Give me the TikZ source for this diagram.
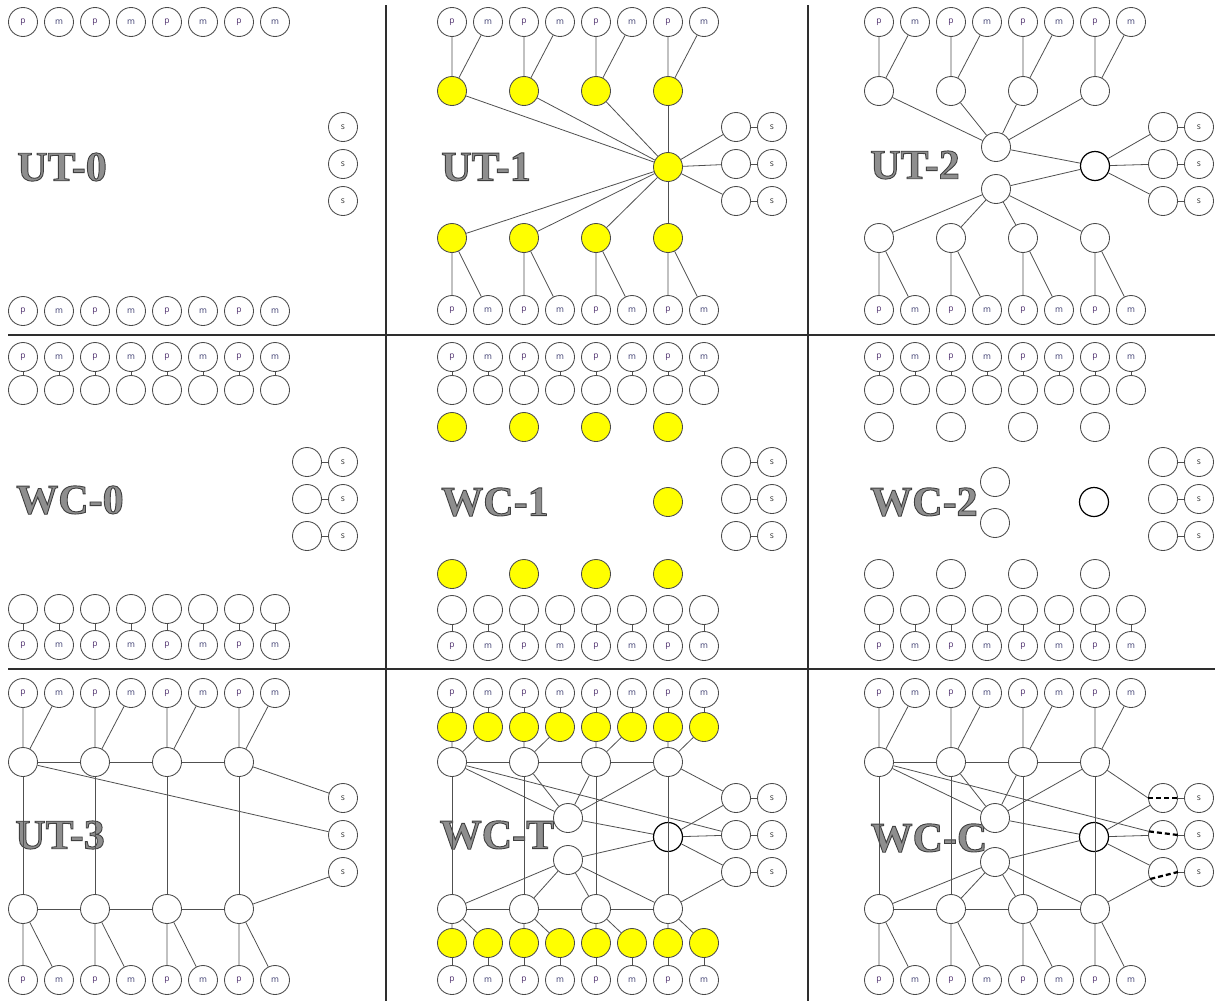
\documentclass[tikz,border=0pt]{standalone}
\usepackage{fontspec}
\setmainfont{Liberation Serif}
\newfontfamily\smallfont{Open Sans}
\usetikzlibrary{calc}
\definecolor{cstroke}{HTML}{4A4A4A}
\definecolor{lcol}{HTML}{505050}
\definecolor{pcol}{HTML}{4B2C6B}
\definecolor{mcol}{HTML}{3A3A6E}
\definecolor{scol}{HTML}{333333}
\definecolor{ycol}{HTML}{FFFF00}
\definecolor{lblfillc}{HTML}{8E8E8E}
\definecolor{gridc}{HTML}{2E2E2E}
\tikzset{
 cn/.style={circle,draw=cstroke,line width=0.85pt,fill=white,minimum size=29pt,inner sep=0pt,font=\smallfont\fontsize{8.5}{10}\selectfont},
 yc/.style={cn,fill=ycol},
 hubc/.style={cn,draw=black,line width=1.2pt},
 conn/.style={draw=lcol,line width=0.8pt},
 bypass/.style={draw=black,line width=2.2pt,dash pattern=on 5pt off 3pt},
 lblfill/.style={inner sep=0pt,font=\bfseries\fontsize{42}{42}\selectfont,text=lblfillc},
 gridline/.style={draw=gridc,line width=1.1pt},
}
% rows of p/m nodes
\newcommand\PMrow[2]{\foreach \i/\l/\lc in {0/p/pcol,1/m/mcol,2/p/pcol,3/m/mcol,4/p/pcol,5/m/mcol,6/p/pcol,7/m/mcol}{\node[cn,text=\lc] (#1\i) at ({36*\i},#2) {\l};}}
\newcommand\Erow[3]{\foreach \i in {0,...,7}{\node[#3] (#1\i) at ({36*\i},#2) {};}}
\newcommand\Lrow[3]{\foreach \k in {0,...,3}{\node[#3] (#1\k) at ({72*\k},#2) {};}}
\newcommand\Sonly[1]{\foreach \j/\yy in {1/127,2/164,3/201}{\node[cn,text=scol] (#1s\j) at (320,\yy) {s};}}
\newcommand\Spairs[1]{\foreach \j/\yy in {1/127,2/164,3/201}{\node[cn] (#1r\j) at (284,\yy) {};\node[cn,text=scol] (#1s\j) at (320,\yy) {s};}}
\newcommand\SpairLinks[1]{\foreach \j in {1,2,3}{\draw[conn] (#1r\j) -- (#1s\j);}}
\newcommand\Ticks[2]{\foreach \i in {0,...,7}{\draw[conn] (#1\i) -- (#2\i);}}
\newcommand\Fan[2]{\foreach \k in {0,...,3}{\pgfmathtruncatemacro\ia{2*\k}\pgfmathtruncatemacro\ib{2*\k+1}\draw[conn] (#1\ia) -- (#2\k) (#1\ib) -- (#2\k);}}
\newcommand\Chain[1]{\draw[conn] (#10) -- (#11) -- (#12) -- (#13);}
\newcommand\Verts[2]{\foreach \k in {0,...,3}{\draw[conn] (#1\k) -- (#2\k);}}
\newcommand\ToHub[2]{\foreach \k in {0,...,3}{\draw[conn] (#1\k) -- (#2);}}
% outlined label: fill gray, dark stroke (text render mode 2)
\newcommand\Lbl[4]{%
 \node[lblfill] (#1) at (#2,#3) {\special{pdf:literal direct 0.25 0.25 0.25 RG 0.9 w 2 Tr}#4\special{pdf:literal direct 0 Tr 0.4 w}};}
\begin{document}
\begin{tikzpicture}[x=1pt,y=-1pt]
\useasboundingbox (0,0) rectangle (1215,1001);
\fill[white] (0,0) rectangle (1215,1001);
% grid
\draw[gridline] (386,5) -- (386,1001);
\draw[gridline] (808,5) -- (808,1001);
\draw[gridline] (8,335) -- (1215,335);
\draw[gridline] (8,669) -- (1215,669);

% ---------- UT-0
\begin{scope}[shift={(23,0)}]
 \Lbl{lUTa}{39}{167}{UT-0}
 \PMrow{At}{22}
 \PMrow{Au}{311}
 \Sonly{A}
\end{scope}

% ---------- UT-1
\begin{scope}[shift={(452,0)}]
 \Lbl{lUTb}{34}{167}{UT-1}
 \PMrow{Bt}{22}
 \Lrow{Ba}{91}{yc}
 \node[yc] (Bh) at (216,167) {};
 \Spairs{B}
 \Lrow{Bb}{238}{yc}
 \PMrow{Bu}{310}
 \Fan{Bt}{Ba}
 \Fan{Bu}{Bb}
 \ToHub{Ba}{Bh}
 \ToHub{Bb}{Bh}
 \foreach \j in {1,2,3}{\draw[conn] (Bh) -- (Br\j);}
 \SpairLinks{B}
\end{scope}

% ---------- UT-2
\begin{scope}[shift={(879,0)}]
 \Lbl{lUTc}{36}{165}{UT-2}
 \PMrow{Ct}{22}
 \Lrow{Ca}{91}{cn}
 \node[cn] (Cha) at (117,147) {};
 \node[cn] (Chb) at (117,189) {};
 \node[hubc] (CR) at (216,166) {};
 \Spairs{C}
 \Lrow{Cb}{238}{cn}
 \PMrow{Cu}{310}
 \Fan{Ct}{Ca}
 \Fan{Cu}{Cb}
 \ToHub{Ca}{Cha}
 \ToHub{Cb}{Chb}
 \draw[conn] (Cha) -- (CR);
 \draw[conn] (Chb) -- (CR);
 \foreach \j in {1,2,3}{\draw[conn] (CR) -- (Cr\j);}
 \SpairLinks{C}
\end{scope}

% ---------- WC-0
\begin{scope}[shift={(23,335)}]
 \Lbl{lWCa}{47}{165}{WC-0}
 \PMrow{Dt}{22}
 \Erow{De}{55}{cn}
 \Spairs{D}
 \Erow{Df}{274}{cn}
 \PMrow{Du}{310}
 \Ticks{Dt}{De}
 \Ticks{Df}{Du}
 \SpairLinks{D}
\end{scope}

% ---------- WC-1
\begin{scope}[shift={(452,335)}]
 \Lbl{lWCb}{43}{167}{WC-1}
 \PMrow{Et}{22}
 \Erow{Ee}{55}{cn}
 \Lrow{Ea}{92}{yc}
 \node[yc] (Eh) at (216,167) {};
 \Spairs{E}
 \Lrow{Eb}{239}{yc}
 \Erow{Ef}{275}{cn}
 \PMrow{Eu}{311}
 \Ticks{Et}{Ee}
 \Ticks{Ef}{Eu}
 \SpairLinks{E}
\end{scope}

% ---------- WC-2
\begin{scope}[shift={(879,335)}]
 \Lbl{lWCc}{45}{167}{WC-2}
 \PMrow{Ft}{22}
 \Erow{Fe}{55}{cn}
 \Lrow{Fa}{92}{cn}
 \node[cn] (Fha) at (116,147) {};
 \node[cn] (Fhb) at (116,188) {};
 \node[hubc] (FR) at (215,167) {};
 \Spairs{F}
 \Lrow{Fb}{239}{cn}
 \Erow{Ff}{275}{cn}
 \PMrow{Fu}{311}
 \Ticks{Ft}{Fe}
 \Ticks{Ff}{Fu}
 \SpairLinks{F}
\end{scope}

% ---------- UT-3
\begin{scope}[shift={(23,671)}]
 \Lbl{lUTd}{37}{164}{UT-3}
 \PMrow{Gt}{22}
 \Lrow{Ga}{91}{cn}
 \Lrow{Gb}{238}{cn}
 \PMrow{Gu}{309}
 \Sonly{G}
 \Fan{Gt}{Ga}
 \Fan{Gu}{Gb}
 \Chain{Ga}
 \Chain{Gb}
 \Verts{Ga}{Gb}
 \draw[conn] (Ga0) -- (Gs2);
 \draw[conn] (Ga3) -- (Gs1);
 \draw[conn] (Gb3) -- (Gs3);
\end{scope}

% ---------- WC-T
\begin{scope}[shift={(452,671)}]
 \Lbl{lWCd}{45}{164}{WC-T}
 \PMrow{Ht}{22}
 \Erow{Hy}{56}{yc}
 \Lrow{Ha}{91}{cn}
 \node[cn] (Hha) at (116,147) {};
 \node[cn] (Hhb) at (116,189) {};
 \node[hubc] (HR) at (216,166) {};
 \Spairs{H}
 \Lrow{Hb}{238}{cn}
 \Erow{Hz}{272}{yc}
 \PMrow{Hu}{309}
 \Ticks{Ht}{Hy}
 \Fan{Hy}{Ha}
 \Chain{Ha}
 \Chain{Hb}
 \Verts{Ha}{Hb}
 \ToHub{Ha}{Hha}
 \ToHub{Hb}{Hhb}
 \draw[conn] (Hha) -- (HR);
 \draw[conn] (Hhb) -- (HR);
 \draw[conn] (Ha0) -- (Hr2);
 \draw[conn] (Ha3) -- (Hr1);
 \draw[conn] (Hb3) -- (Hr3);
 \foreach \j in {1,2,3}{\draw[conn] (HR) -- (Hr\j);}
 \Fan{Hz}{Hb}
 \Ticks{Hz}{Hu}
 \SpairLinks{H}
\end{scope}

% ---------- WC-C
\begin{scope}[shift={(879,671)}]
 \Lbl{lWCe}{50}{167}{WC-C}
 \PMrow{It}{22}
 \Lrow{Ia}{91}{cn}
 \node[cn] (Iha) at (116,147) {};
 \node[cn] (Ihb) at (116,191) {};
 \node[hubc] (IR) at (215,166) {};
 \Spairs{I}
 \Lrow{Ib}{238}{cn}
 \PMrow{Iu}{309}
 \Fan{It}{Ia}
 \Fan{Iu}{Ib}
 \Chain{Ia}
 \Chain{Ib}
 \Verts{Ia}{Ib}
 \ToHub{Ia}{Iha}
 \ToHub{Ib}{Ihb}
 \draw[conn] (Iha) -- (IR);
 \draw[conn] (Ihb) -- (IR);
 \draw[conn] (Ia0) -- (Ir2);
 \draw[conn] (Ia3) -- (Ir1.west);
 \draw[conn] (Ib3) -- (Ir3);
 \foreach \j in {1,2,3}{\draw[conn] (IR) -- (Ir\j);}
 \SpairLinks{I}
 \draw[bypass] (Ir1.west) -- (Ir1.east);
 \draw[bypass] ($(Ir2)!14.5pt!(Ia0)$) -- (Ir2.east);
 \draw[bypass] ($(Ir3)!14.5pt!(Ib3)$) -- (Ir3.east);
\end{scope}
\end{tikzpicture}
\end{document}
